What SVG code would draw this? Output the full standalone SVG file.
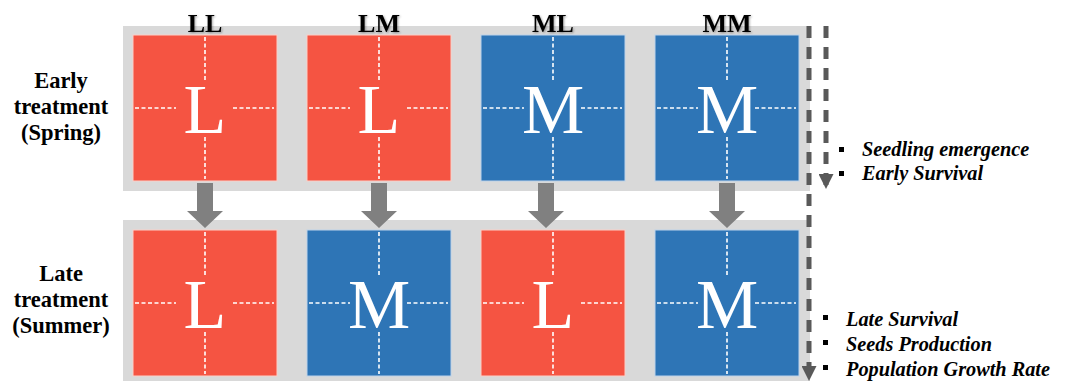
<svg xmlns="http://www.w3.org/2000/svg" width="1067" height="381" viewBox="0 0 1067 381">
<defs>
<filter id="sh" x="-20%" y="-20%" width="140%" height="140%"><feDropShadow dx="1" dy="1" stdDeviation="0.8" flood-color="#000" flood-opacity="0.35"/></filter>
<marker id="ah" viewBox="0 0 10 10" refX="10" refY="5" markerWidth="3" markerHeight="3" orient="auto" markerUnits="strokeWidth"><path d="M0,0 L10,5 L0,10 Z" fill="#595959"/></marker>
<g id="cross" stroke="#ffffff" stroke-width="1.6" stroke-dasharray="4 2.5">
<line x1="72" y1="2" x2="72" y2="46"/>
<line x1="72" y1="102" x2="72" y2="144"/>
<line x1="2" y1="73" x2="43" y2="73"/>
<line x1="100" y1="73" x2="141" y2="73"/>
</g>
</defs>
<style>
.band{fill:#d9d9d9}
.red{fill:#f55442;stroke:#fbd0c8;stroke-width:1}
.blue{fill:#2e75b6;stroke:#bdd3ea;stroke-width:1}
.big{font-family:"Liberation Serif","Times New Roman",serif;font-size:70px;fill:#fff;text-anchor:middle}
.hdr{font-family:"Liberation Serif","Times New Roman",serif;font-size:26px;font-weight:bold;fill:#000;text-anchor:middle}
.row{font-family:"Liberation Serif","Times New Roman",serif;font-size:22.5px;font-weight:bold;fill:#000;text-anchor:middle}
.it{font-family:"Liberation Serif","Times New Roman",serif;font-size:20.3px;font-weight:bold;font-style:italic;fill:#000}
.dash{stroke:#595959;stroke-width:5;stroke-dasharray:12 9;fill:none}
.arr{fill:#808080}
</style>
<rect class="band" x="123" y="26" width="687" height="165"/>
<rect class="band" x="123" y="220" width="687" height="161"/>

<g id="headers">
<text class="hdr" x="205" y="32" filter="url(#sh)">LL</text>
<text class="hdr" x="379" y="32" filter="url(#sh)">LM</text>
<text class="hdr" x="553" y="32" filter="url(#sh)">ML</text>
<text class="hdr" x="727" y="32" filter="url(#sh)">MM</text>
</g>

<g id="row-early">
<text class="row" x="61" y="88">Early</text>
<text class="row" x="61" y="114">treatment</text>
<text class="row" x="61" y="140">(Spring)</text>
</g>
<g id="row-late">
<text class="row" x="61" y="281">Late</text>
<text class="row" x="61" y="307">treatment</text>
<text class="row" x="61" y="333">(Summer)</text>
</g>

<g id="e-LL"><rect class="red" x="133" y="35" width="144" height="146"/><use href="#cross" x="133" y="35"/><text class="big" x="205" y="133">L</text></g>
<g id="e-LM"><rect class="red" x="307" y="35" width="144" height="146"/><use href="#cross" x="307" y="35"/><text class="big" x="379" y="133">L</text></g>
<g id="e-ML"><rect class="blue" x="481" y="35" width="144" height="146"/><use href="#cross" x="481" y="35"/><text class="big" x="553" y="133">M</text></g>
<g id="e-MM"><rect class="blue" x="655" y="35" width="144" height="146"/><use href="#cross" x="655" y="35"/><text class="big" x="727" y="133">M</text></g>

<g id="l-LL"><rect class="red" x="133" y="230" width="144" height="146"/><use href="#cross" x="133" y="230"/><text class="big" x="205" y="328">L</text></g>
<g id="l-LM"><rect class="blue" x="307" y="230" width="144" height="146"/><use href="#cross" x="307" y="230"/><text class="big" x="379" y="328">M</text></g>
<g id="l-ML"><rect class="red" x="481" y="230" width="144" height="146"/><use href="#cross" x="481" y="230"/><text class="big" x="553" y="328">L</text></g>
<g id="l-MM"><rect class="blue" x="655" y="230" width="144" height="146"/><use href="#cross" x="655" y="230"/><text class="big" x="727" y="328">M</text></g>

<g id="connectors">
<path class="arr" d="M197,183 h16 v28 h10 l-18,17 l-18,-17 h10 z"/>
<path class="arr" d="M371,183 h16 v28 h10 l-18,17 l-18,-17 h10 z"/>
<path class="arr" d="M538,183 h16 v28 h10 l-18,17 l-18,-17 h10 z"/>
<path class="arr" d="M719,183 h16 v28 h10 l-18,17 l-18,-17 h10 z"/>
<line class="dash" x1="809" y1="26" x2="809" y2="381" marker-end="url(#ah)"/>
<line class="dash" x1="826" y1="26" x2="826" y2="189" marker-end="url(#ah)"/>
</g>

<g id="labels-early">
<rect x="839" y="147" width="5" height="5" fill="#000"/>
<rect x="839" y="171" width="5" height="5" fill="#000"/>
<text class="it" x="862" y="156">Seedling emergence</text>
<text class="it" x="862" y="180">Early Survival</text>
</g>
<g id="labels-late">
<rect x="823" y="315" width="5" height="5" fill="#000"/>
<rect x="823" y="340" width="5" height="5" fill="#000"/>
<rect x="823" y="365" width="5" height="5" fill="#000"/>
<text class="it" x="846" y="326">Late Survival</text>
<text class="it" x="846" y="351">Seeds Production</text>
<text class="it" x="846" y="376">Population Growth Rate</text>
</g>
</svg>
